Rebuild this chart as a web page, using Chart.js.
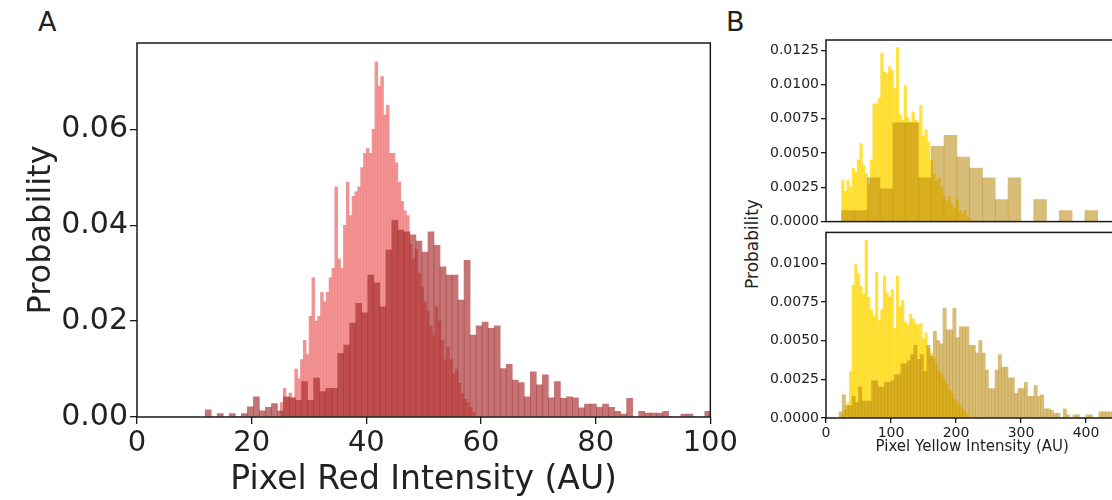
<!DOCTYPE html>
<html>
<head>
<meta charset="utf-8">
<script src="https://cdn.jsdelivr.net/npm/chart.js@4.4.1/dist/chart.umd.min.js"></script>
<style>
body { margin: 0; width: 1112px; height: 500px; overflow: hidden; background: #fff; position: relative; font-family: "DejaVu Sans", sans-serif; color: #222; }
canvas { position: absolute; }
.letra { position: absolute; font-size: 27px; }
#probB { position: absolute; left: 752px; top: 244px; font-size: 17px; white-space: nowrap; transform: translate(-50%, -50%) rotate(-90deg); }
</style>
</head>
<body>
<div class="letra" style="left:38px; top:6px;">A</div>
<div class="letra" style="left:726px; top:6px;">B</div>
<div id="probB">Probability</div>
<canvas id="graficoA" width="740" height="500" style="left:0; top:0;"></canvas>
<canvas id="graficoB1" width="400" height="232" style="left:740px; top:0;"></canvas>
<canvas id="graficoB2" width="400" height="278" style="left:740px; top:222px;"></canvas>
<script>
// painel A - vermelho
const redPinkStart = 25, redPinkWidth = 0.5;
const redPinkValues = [
  0.003, 0.006, 0.004, 0.005, 0.004, 0.010, 0.008, 0.012, 0.016, 0.013,
  0.021, 0.029, 0.020, 0.021, 0.026, 0.024, 0.026, 0.029, 0.031, 0.048,
  0.033, 0.031, 0.040, 0.049, 0.042, 0.046, 0.047, 0.048, 0.052, 0.055,
  0.056, 0.055, 0.060, 0.074, 0.069, 0.071, 0.063, 0.065, 0.055, 0.055,
  0.053, 0.049, 0.045, 0.043, 0.042, 0.036, 0.033, 0.035, 0.030, 0.027,
  0.024, 0.022, 0.019, 0.017, 0.023, 0.020, 0.016, 0.012, 0.0146, 0.012,
  0.009, 0.010, 0.007, 0.005, 0.0037, 0.003, 0.002, 0.001
];
const redBrownStart = 11.9, redBrownWidth = 1.05;
const redBrownValues = [
  0.0015, 0, 0.0007, 0, 0.0007, 0, 0.0007, 0.0021, 0.0042, 0.0013,
  0.0020, 0.0028, 0.0013, 0.0042, 0.0040, 0.0035, 0.0074, 0.0035, 0.0081, 0.0053,
  0.0060, 0.0060, 0.0133, 0.0150, 0.0196, 0.0237, 0.0217, 0.0296, 0.0280, 0.0230,
  0.0348, 0.0410, 0.0390, 0.0386, 0.0380, 0.0367, 0.0344, 0.0386, 0.0358, 0.0313,
  0.0296, 0.0296, 0.0244, 0.0327, 0.0171, 0.0190, 0.0198, 0.0185, 0.0190, 0.0101,
  0.0110, 0.0077, 0.0072, 0.0042, 0.0094, 0.0067, 0.0088, 0.0040, 0.0074, 0.0039,
  0.0042, 0.0040, 0.0019, 0.0027, 0.0027, 0.0020, 0.0027, 0.0020, 0.0012, 0.0006,
  0.0039, 0, 0.0012, 0.0008, 0.0008, 0.0008, 0.0012, 0, 0, 0.0006,
  0.0006, 0, 0, 0.0012
];
const redXTicks = [0, 20, 40, 60, 80, 100];
const redYTicks = [0, 0.02, 0.04, 0.06];

// painel B - amarelo (em cima)
const yelTopStart = 24, yelTopWidth = 4;
const yelTopValues = [
  0.0030, 0.0022, 0.0030, 0.0025, 0.0039, 0.0036, 0.0045, 0.0057, 0.0041, 0.0035,
  0.0027, 0.0045, 0.0086, 0.0086, 0.0090, 0.0123, 0.0109, 0.0108, 0.0113, 0.0110,
  0.0097, 0.0127, 0.0078, 0.0074, 0.0099, 0.0076, 0.0073, 0.0080, 0.0074, 0.0072,
  0.0085, 0.0062, 0.0067, 0.0058, 0.0045, 0.0035, 0.0030, 0.0032, 0.0025, 0.0018,
  0.0015, 0.0018, 0.0012, 0.0010, 0.0016, 0.0008, 0.0005, 0.0008, 0.0003, 0.0002
];
const goldTopStart = 24, goldTopWidth = 19.7;
const goldTopValues = [
  0.0008, 0.0008, 0.0032, 0.0024, 0.0072, 0.0072, 0.0032, 0.0055, 0.0063, 0.0047,
  0.0039, 0.0032, 0.0016, 0.0032, 0, 0.0016, 0, 0.0008, 0, 0.0008
];
// painel B - amarelo (embaixo)
const yelBotStart = 24, yelBotWidth = 4;
const yelBotValues = [
  0.0002, 0.0005, 0.0010, 0.0030, 0.0086, 0.0099, 0.0093, 0.0085, 0.0080, 0.0115,
  0.0078, 0.0070, 0.0066, 0.0094, 0.0063, 0.0070, 0.0092, 0.0081, 0.0078, 0.0083,
  0.0058, 0.0092, 0.0072, 0.0076, 0.0062, 0.0060, 0.0067, 0.0064, 0.0061, 0.0060,
  0.0061, 0.0051, 0.0055, 0.0045, 0.0042, 0.0038, 0.0035, 0.0030, 0.0028, 0.0025,
  0.0022, 0.0018, 0.0016, 0.0012, 0.0010, 0.0008, 0.0006, 0.0004, 0.0002, 0
];
const goldBotStart = 20, goldBotWidth = 5;
const goldBotValues = [
  0.0004, 0.0015, 0.0008, 0.0008, 0.0014, 0.0010, 0.0020, 0.0011, 0.0011, 0.0011,
  0.0024, 0.0024, 0.0020, 0.0020, 0.0023, 0.0023, 0.0024, 0.0028, 0.0028, 0.0035,
  0.0035, 0.0037, 0.0041, 0.0047, 0.0038, 0.0041, 0.0030, 0.0047, 0.0040, 0.0056,
  0.0050, 0.0048, 0.0071, 0.0057, 0.0057, 0.0071, 0.0052, 0.0059, 0.0059, 0.0059,
  0.0047, 0.0047, 0.0042, 0.0050, 0.0042, 0.0031, 0.0019, 0.0019, 0.0031, 0.0041,
  0.0033, 0.0033, 0.0026, 0.0026, 0.0016, 0.0019, 0.0019, 0.0023, 0.0014, 0.0014,
  0.0021, 0.0014, 0.0015, 0.0006, 0.0006, 0.0005, 0.0003, 0.0003, 0, 0.0006,
  0.0002, 0, 0.0002, 0.0002, 0, 0, 0.0002, 0.0002, 0, 0,
  0.0004, 0.0004, 0.0004, 0.0004, 0.0002, 0.0002
];
const yelXTicks = [0, 100, 200, 300, 400];
const yelTopYTicks = [0, 0.0025, 0.005, 0.0075, 0.01, 0.0125];
const yelBotYTicks = [0, 0.0025, 0.005, 0.0075, 0.01];

Chart.defaults.font.family = '"DejaVu Sans", sans-serif';
Chart.defaults.color = '#222';

const moldura = {
  id: 'moldura',
  afterDraw(chart) {
    const { ctx, chartArea: a } = chart;
    ctx.save();
    ctx.strokeStyle = '#1a1a1a';
    ctx.lineWidth = 1.5;
    ctx.strokeRect(a.left, a.top, a.right - a.left, a.bottom - a.top);
    ctx.restore();
  }
};

function barras(start, width, values, cor, eixo, ordem) {
  return {
    data: values.map((v, i) => ({ x: start + width * (i + 0.5), y: v })),
    xAxisID: eixo,
    backgroundColor: cor,
    borderWidth: 0,
    categoryPercentage: 1,
    barPercentage: 1,
    grouped: false,
    order: ordem
  };
}

function fixarTicks(lista) {
  return (axis) => { axis.ticks = lista.map(v => ({ value: v })); };
}

function eixoY(max, lista, tamanho, largura, casas, marca, titulo) {
  return {
    min: 0, max: max,
    afterBuildTicks: fixarTicks(lista),
    afterFit: (a) => { a.width = largura; },
    ticks: { font: { size: tamanho }, padding: 2, callback: v => Number(v).toFixed(casas) },
    grid: { drawOnChartArea: false, drawTicks: true, tickLength: marca, color: '#1a1a1a', lineWidth: 1.3 },
    border: { display: false },
    title: titulo
  };
}

function eixoX(max, lista, tamanho, altura, marca, titulo) {
  return {
    type: 'linear', min: 0, max: max, offset: false,
    afterBuildTicks: fixarTicks(lista),
    afterFit: (a) => { a.height = altura; },
    ticks: { font: { size: tamanho }, padding: 2, maxRotation: 0, callback: v => v },
    grid: { offset: false, drawOnChartArea: false, drawTicks: true, tickLength: marca, color: '#1a1a1a', lineWidth: 1.3 },
    border: { display: false },
    title: titulo
  };
}

function eixoOculto(max) {
  return { type: 'linear', min: 0, max: max, offset: false, display: false, grid: { offset: false } };
}

const comum = {
  responsive: false,
  animation: false,
  events: [],
  plugins: { legend: { display: false }, tooltip: { enabled: false } }
};

new Chart(document.getElementById('graficoA'), {
  type: 'bar',
  data: {
    datasets: [
      barras(redPinkStart, redPinkWidth, redPinkValues, 'rgba(240,128,128,0.85)', 'x2', 2),
      barras(redBrownStart, redBrownWidth, redBrownValues, 'rgba(165,42,42,0.65)', 'x', 1)
    ]
  },
  options: {
    ...comum,
    layout: { padding: { left: 0, top: 43, right: 26, bottom: 0 } },
    scales: {
      x: eixoX(100, redXTicks, 29, 83, 7,
        { display: true, text: 'Pixel Red Intensity (AU)', font: { size: 33 }, padding: { top: 0, bottom: 0 } }),
      x2: eixoOculto(100),
      y: eixoY(0.078, redYTicks, 30, 137, 2, 7,
        { display: true, text: 'Probability', font: { size: 32 }, padding: { top: 22, bottom: 0 } })
    }
  },
  plugins: [moldura]
});

new Chart(document.getElementById('graficoB1'), {
  type: 'bar',
  data: {
    datasets: [
      barras(yelTopStart, yelTopWidth, yelTopValues, 'rgba(255,215,0,0.75)', 'x2', 2),
      barras(goldTopStart, goldTopWidth, goldTopValues, 'rgba(184,134,11,0.55)', 'x', 1)
    ]
  },
  options: {
    ...comum,
    layout: { padding: { left: 0, top: 40, right: 21.5, bottom: 3 } },
    scales: {
      x: eixoOculto(450),
      x2: eixoOculto(450),
      y: eixoY(0.01325, yelTopYTicks, 14, 86, 4, 5, { display: false })
    }
  },
  plugins: [moldura]
});

new Chart(document.getElementById('graficoB2'), {
  type: 'bar',
  data: {
    datasets: [
      barras(yelBotStart, yelBotWidth, yelBotValues, 'rgba(255,215,0,0.75)', 'x2', 2),
      barras(goldBotStart, goldBotWidth, goldBotValues, 'rgba(184,134,11,0.55)', 'x', 1)
    ]
  },
  options: {
    ...comum,
    layout: { padding: { left: 0, top: 7, right: 21.5, bottom: 40 } },
    scales: {
      x: eixoX(450, yelXTicks, 14, 42, 5,
        { display: true, text: 'Pixel Yellow Intensity (AU)', font: { size: 15 }, padding: { top: 0, bottom: 4 } }),
      x2: eixoOculto(450),
      y: eixoY(0.012, yelBotYTicks, 14, 86, 4, 5, { display: false })
    }
  },
  plugins: [moldura]
});
</script>
</body>
</html>
